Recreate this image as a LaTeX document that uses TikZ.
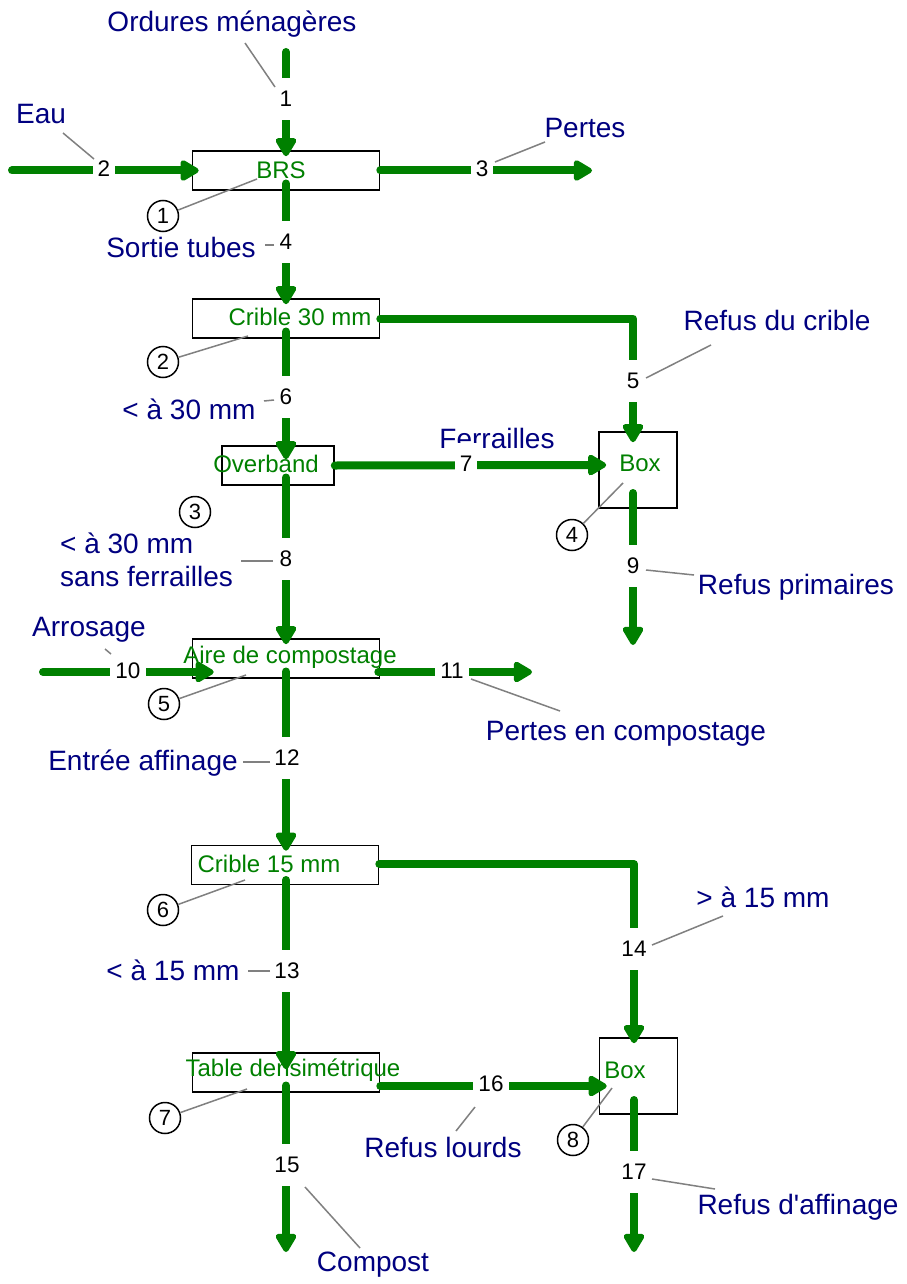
\documentclass[tikz,border=0pt]{standalone}
\usepackage{fontspec}
\setmainfont{Liberation Sans}
\usetikzlibrary{arrows.meta,calc}
\definecolor{flowgreen}{RGB}{0,128,0}
\definecolor{navyblue}{RGB}{0,0,128}
\definecolor{leadgray}{RGB}{128,128,128}
\begin{document}
\begin{tikzpicture}[x=1pt,y=-1pt,
  unit/.style={draw=black, line width=1.6pt, inner sep=0pt, minimum width=187pt, minimum height=39pt},
  boxtext/.style={text=flowgreen, font=\fontsize{24}{28}\selectfont, inner sep=0pt},
  flow/.style={draw=flowgreen, line width=8pt, line cap=round, line join=round,
    -{Triangle[length=21pt,width=23pt,round]}},
  num/.style={fill=white, inner xsep=5pt, inner ysep=0pt, minimum height=42pt, font=\fontsize{22.5}{24}\selectfont},
  lbl/.style={text=navyblue, font=\fontsize{28}{33}\selectfont, inner sep=0pt},
  leader/.style={draw=leadgray, line width=1.5pt},
  refc/.style={circle, draw=black, line width=1.5pt, minimum size=31pt, inner sep=0pt, font=\fontsize{22}{24}\selectfont}]
\useasboundingbox[fill=white] (0,0) rectangle (906,1284);

% boxes
\node[unit] (brs) at (286,170.5) {};
\node[unit] (c30) at (286,318.5) {};
\node[unit, minimum width=112pt] (ovb) at (278,465.5) {};
\node[unit, minimum width=78pt, minimum height=76pt] (box4) at (638,470) {};
\node[unit] (aire) at (286,658.5) {};
\node[unit] (c15) at (285,865) {};
\node[unit] (table) at (286,1072.5) {};
\node[unit, minimum width=78pt, minimum height=76pt] (box8) at (638.5,1076) {};

% box texts
\node[boxtext] (tbrs) at (281,170) {BRS};
\node[boxtext] (tc30) at (300,317) {Crible 30 mm};
\node[boxtext] (tovb) at (266,464) {Overband};
\node[boxtext] (tbox4) at (640,463) {Box};
\node[boxtext] (taire) at (290,657) {Aire de compostage};
\node[boxtext] (tc15) at (269,864) {Crible 15 mm};
\node[boxtext] (ttable) at (293,1070) {Table densimétrique};
\node[boxtext] (tbox8) at (625,1070) {Box};

% free ends
\coordinate (s1) at (286,52);
\coordinate (s2) at (12,170.5);
\coordinate (e3) at (592,170.5);
\coordinate (e9) at (633,645);
\coordinate (s10) at (43,672);
\coordinate (e11) at (532,672);
\coordinate (e15) at (286,1252);
\coordinate (e17) at (634,1252);

% flows
\draw[flow] (s1) -- ($(brs.north)+(0,6)$);
\draw[flow] (s2) -- ($(brs.west)+(7,0)$);
\draw[flow] (brs.east) -- (e3);
\draw[flow] ($(brs.center)+(0,13)$) -- ($(c30.north)+(0,6)$);
\draw[flow] (c30.east) -| ($(box4.north)+(-5,11)$);
\draw[flow] ($(c30.center)+(0,13)$) -- ($(ovb.north)+(8,14)$);
\draw[flow] (ovb.east) -- ($(box4.west)+(8,-5)$);
\draw[flow] ($(ovb.center)+(8,12)$) -- ($(aire.north)+(0,6)$);
\draw[flow] ($(box4.center)+(-5,23)$) -- (e9);
\draw[flow] (s10) -- ($(aire.west)+(22,13.5)$);
\draw[flow] ($(aire.east)+(-2,13.5)$) -- (e11);
\draw[flow] ($(aire.center)+(0,13)$) -- ($(c15.north)+(1,6)$);
\draw[flow] ($(c15.center)+(1,15)$) -- ($(table.north)+(0,17)$);
\draw[flow] ($(c15.east)+(0,-1)$) -| ($(box8.north)+(-4.5,6)$);
\draw[flow] ($(table.center)+(0,13)$) -- (e15);
\draw[flow] ($(table.east)+(0,13.5)$) -- ($(box8.west)+(8,10)$);
\draw[flow] ($(box8.center)+(-4.5,24)$) -- (e17);

% blue texts
\node[lbl] (t1) at (232,24) {Ordures ménagères};
\node[lbl] (t2) at (41,114) {Eau};
\node[lbl] (t3) at (585,128) {Pertes};
\node[lbl] (t4) at (181,247) {Sortie tubes};
\node[lbl] (t5) at (777,320) {Refus du crible};
\node[lbl] (t6) at (189,409) {< à 30 mm};
\node[lbl] (t7) at (497,438) {Ferrailles};
\node[lbl, align=left, anchor=west] (t8) at (60,560) {< à 30 mm\\sans ferrailles};
\node[lbl] (t9) at (796,587) {Refus primaires};
\node[lbl] (t10) at (89,630) {Arrosage};
\node[lbl] (t11) at (626,734) {Pertes en compostage};
\node[lbl] (t12) at (143,763) {Entrée affinage};
\node[lbl] (t14) at (763,897) {> à 15 mm};
\node[lbl] (t13) at (173,970) {< à 15 mm};
\node[lbl] (t16) at (443,1147) {Refus lourds};
\node[lbl] (t17) at (798,1207) {Refus d\textquotesingle affinage};
\node[lbl] (t15) at (373,1265) {Compost};

% flow numbers
\node[num] (n1) at (286,99) {1};
\node[num] (n2) at (104,169) {2};
\node[num] (n3) at (482,169) {3};
\node[num] (n4) at (286,242) {4};
\node[num] (n5) at (633,381) {5};
\node[num] (n6) at (286,397) {6};
\node[num] (n7) at (466,464) {7};
\node[num] (n8) at (286,559) {8};
\node[num] (n9) at (633,566) {9};
\node[num] (n10) at (128,671) {10};
\node[num] (n11) at (452,671) {11};
\node[num] (n12) at (287,758) {12};
\node[num] (n13) at (287,971) {13};
\node[num] (n14) at (634,949) {14};
\node[num] (n15) at (287,1165) {15};
\node[num] (n16) at (491,1084) {16};
\node[num] (n17) at (634,1172) {17};

% leader end points
\coordinate (a1) at (275,87);   \coordinate (b1) at (245,43);
\coordinate (a2) at (94,159);   \coordinate (b2) at (63,133);
\coordinate (a3) at (495,162);  \coordinate (b3) at (545,142);
\coordinate (a4) at (274,245);  \coordinate (b4) at (265,245);
\coordinate (a5) at (646,378);  \coordinate (b5) at (711,345);
\coordinate (a6) at (274,400);  \coordinate (b6) at (264,401);
\coordinate (a8) at (273,561);  \coordinate (b8) at (241,561);
\coordinate (a9) at (646,570);  \coordinate (b9) at (694,575);
\coordinate (a10) at (111,654); \coordinate (b10) at (105,649);
\coordinate (a11) at (471,679); \coordinate (b11) at (560,711);
\coordinate (a12) at (270,762); \coordinate (b12) at (243,762);
\coordinate (a13) at (270,971); \coordinate (b13) at (248,971);
\coordinate (a14) at (652,945); \coordinate (b14) at (723,916);
\coordinate (a15) at (305,1187); \coordinate (b15) at (360,1248);
\coordinate (a16) at (475,1107); \coordinate (b16) at (456,1131);
\coordinate (a17) at (652,1179); \coordinate (b17) at (715,1189);

\foreach \k in {1,2,3,4,5,6,8,9,10,11,12,13,14,15,16,17}
  \draw[leader] (a\k) -- (b\k);

% reference circles
\node[refc] (r1) at (163,216) {1};
\node[refc] (r2) at (163,362) {2};
\node[refc] (r3) at (195,512) {3};
\node[refc] (r4) at (572,535) {4};
\node[refc] (r5) at (164,704) {5};
\node[refc] (r6) at (163,910) {6};
\node[refc] (r7) at (165,1118) {7};
\node[refc] (r8) at (573,1140) {8};

\coordinate (p1) at (257,179);
\coordinate (p2) at (248,336);
\coordinate (p4) at (623,483);
\coordinate (p5) at (246,675);
\coordinate (p6) at (245,880);
\coordinate (p7) at (247,1089);
\coordinate (p8) at (612,1088);
\foreach \k in {1,2,4,5,6,7,8}
  \draw[leader] (r\k) -- (p\k);
\end{tikzpicture}
\end{document}
